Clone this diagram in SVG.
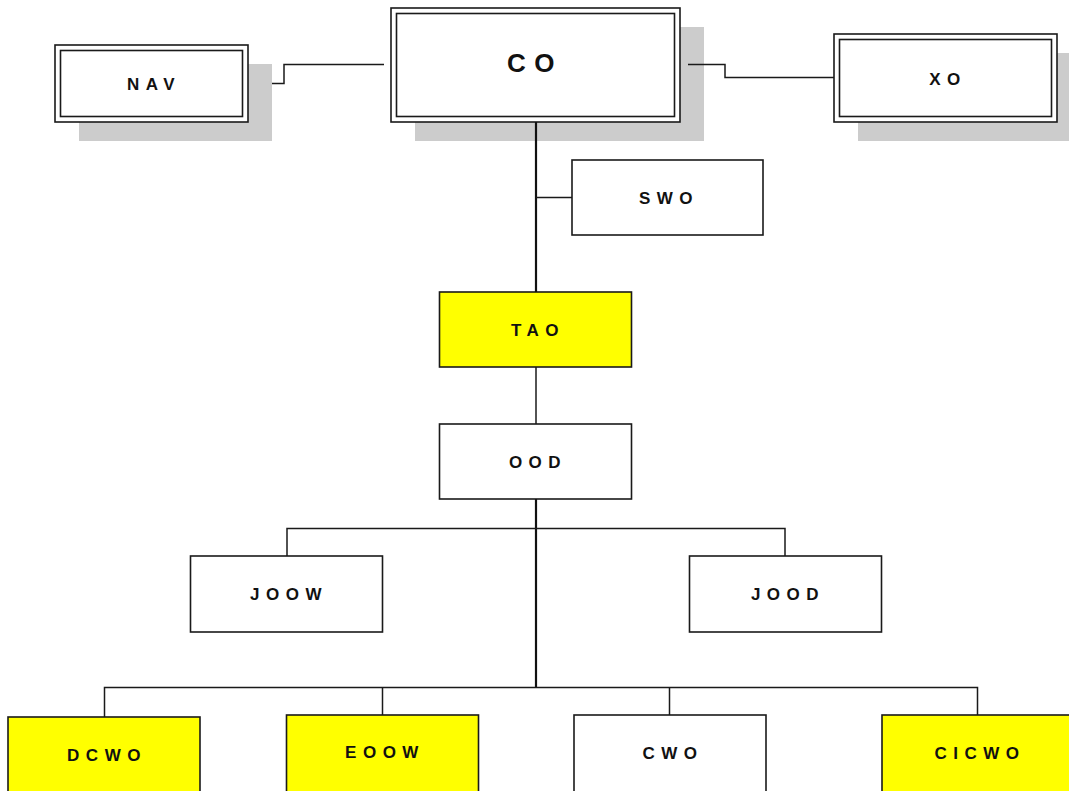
<svg xmlns="http://www.w3.org/2000/svg" width="1069" height="791" viewBox="0 0 1069 791">
<style>
.bg{fill:#ffffff}
.shadow{fill:#cccccc;stroke:none}
.box{fill:#ffffff;stroke:#1a1a1a;stroke-width:1.6}
.ybox{fill:#ffff00;stroke:#1a1a1a;stroke-width:1.6}
.dbl{fill:none;stroke:#1a1a1a;stroke-width:1.6}
.lbl{font-family:"Liberation Sans",Arial,sans-serif;font-weight:bold;font-size:17px;letter-spacing:6.5px;fill:#111111;text-anchor:middle}
.big{font-size:26px;letter-spacing:8.5px}
.ln{fill:none;stroke:#1a1a1a;stroke-width:1.5}
.thick{fill:none;stroke:#111111;stroke-width:2.2}
</style>
<rect class="bg" x="0" y="0" width="1069" height="791"/>
<g id="node-nav">
<rect class="shadow" x="79" y="64" width="193" height="77"/>
<rect class="box" x="55" y="45" width="193" height="77"/>
<rect class="dbl" x="60.5" y="50.5" width="182" height="66"/>
<text class="lbl" x="154" y="90">NAV</text>
</g>
<g id="node-co">
<rect class="shadow" x="415" y="27" width="289" height="114"/>
<rect class="box" x="391" y="8" width="289" height="114"/>
<rect class="dbl" x="396.5" y="13.5" width="278" height="103"/>
<text class="lbl big" x="535" y="72">CO</text>
</g>
<g id="node-xo">
<rect class="shadow" x="858" y="53" width="223" height="88"/>
<rect class="box" x="834" y="34" width="223" height="88"/>
<rect class="dbl" x="839.5" y="39.5" width="212" height="77"/>
<text class="lbl" x="948" y="85">XO</text>
</g>
<g id="node-swo">
<rect class="box" x="572" y="160" width="191" height="75"/>
<text class="lbl" x="669" y="204">SWO</text>
</g>
<g id="node-tao">
<rect class="ybox" x="439.5" y="292" width="192" height="75"/>
<text class="lbl" x="538" y="336">TAO</text>
</g>
<g id="node-ood">
<rect class="box" x="439.5" y="424" width="192" height="75"/>
<text class="lbl" x="538" y="468">OOD</text>
</g>
<g id="node-joow">
<rect class="box" x="190.5" y="556" width="192" height="76"/>
<text class="lbl" x="289" y="600">JOOW</text>
</g>
<g id="node-jood">
<rect class="box" x="689.5" y="556" width="192" height="76"/>
<text class="lbl" x="788" y="600">JOOD</text>
</g>
<g id="node-dcwo">
<rect class="ybox" x="8" y="717" width="192" height="80"/>
<text class="lbl" x="107" y="761">DCWO</text>
</g>
<g id="node-eoow">
<rect class="ybox" x="286.5" y="715" width="192" height="82"/>
<text class="lbl" x="385" y="758">EOOW</text>
</g>
<g id="node-cwo">
<rect class="box" x="574" y="715" width="192" height="82"/>
<text class="lbl" x="673" y="759">CWO</text>
</g>
<g id="node-cicwo">
<rect class="ybox" x="882" y="715" width="192" height="82"/>
<text class="lbl" x="980" y="759">CICWO</text>
</g>
<g id="connectors">
<path class="ln" d="M272,83.5 H284 V64.5 H384"/>
<path class="ln" d="M688,64.5 H725 V77.5 H834"/>
<path class="thick" d="M536,122 V292"/>
<path class="ln" d="M536,197.5 H572"/>
<path class="ln" d="M536,367 V424"/>
<path class="thick" d="M536,499 V687"/>
<path class="ln" d="M287,556 V528.5 H785 V556"/>
<path class="ln" d="M104.5,717 V687.5 H977.5 V715"/>
<path class="ln" d="M382.5,687.5 V715"/>
<path class="ln" d="M669.5,687.5 V715"/>
</g>
</svg>
